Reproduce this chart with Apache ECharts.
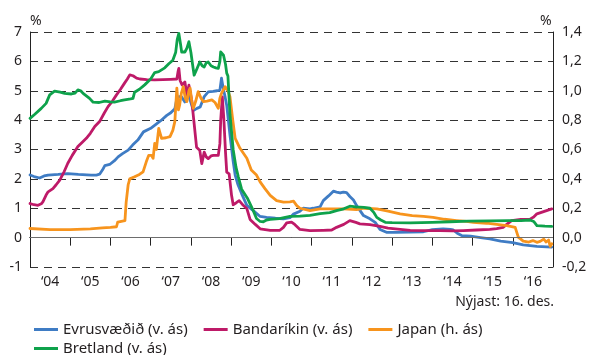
<!DOCTYPE html>
<html>
<head>
<meta charset="utf-8">
<script src="https://cdn.jsdelivr.net/npm/echarts@6/dist/echarts.min.js"></script>
<style>
  html, body { margin: 0; padding: 0; background: #fff; }
  #chart { width: 590px; height: 355px; }
</style>
</head>
<body>
<div id="chart"></div>
<script>
// year labels shown between the ticks
const yearLabels = ['\u201804', '\u201805', '\u201806', '\u201807', '\u201808', '\u201809', '\u201810',
  '\u201811', '\u201812', '\u201813', '\u201814', '\u201815', '\u201816']

// [year, %]
const evrusvaedid = [
  [2004.00, 2.13], [2004.10, 2.08], [2004.24, 2.03], [2004.35, 2.10], [2004.45, 2.13], [2004.70, 2.15],
  [2004.94, 2.18], [2005.20, 2.15], [2005.52, 2.13], [2005.65, 2.13], [2005.73, 2.16], [2005.80, 2.30],
  [2005.86, 2.45], [2005.98, 2.49], [2006.10, 2.62], [2006.19, 2.75], [2006.30, 2.86], [2006.44, 2.98],
  [2006.55, 3.15], [2006.68, 3.32], [2006.82, 3.60], [2007.00, 3.72], [2007.25, 3.98], [2007.40, 4.16],
  [2007.50, 4.25], [2007.60, 4.39], [2007.65, 4.73], [2007.71, 4.80], [2007.77, 4.79], [2007.85, 4.62],
  [2007.90, 4.75], [2007.94, 4.85], [2008.00, 4.60], [2008.06, 4.33], [2008.15, 4.40], [2008.23, 4.45],
  [2008.33, 4.80], [2008.43, 4.96], [2008.55, 4.98], [2008.65, 5.00], [2008.72, 5.02], [2008.76, 5.43],
  [2008.80, 5.10], [2008.85, 4.79], [2008.89, 4.50], [2008.97, 3.50], [2009.05, 2.60], [2009.10, 2.13],
  [2009.17, 1.80], [2009.26, 1.50], [2009.39, 1.10], [2009.55, 0.92], [2009.72, 0.72], [2009.88, 0.69],
  [2010.10, 0.66], [2010.30, 0.64], [2010.46, 0.68], [2010.55, 0.80], [2010.71, 0.90], [2010.79, 1.00],
  [2010.96, 0.98], [2011.04, 1.00], [2011.21, 1.05], [2011.29, 1.26], [2011.42, 1.42], [2011.54, 1.58],
  [2011.62, 1.55], [2011.71, 1.52], [2011.79, 1.55], [2011.87, 1.53], [2011.95, 1.40], [2012.04, 1.28],
  [2012.12, 1.09], [2012.29, 0.75], [2012.45, 0.64], [2012.58, 0.52], [2012.70, 0.28], [2012.86, 0.18],
  [2013.10, 0.18], [2013.45, 0.19], [2013.78, 0.20], [2014.00, 0.27], [2014.27, 0.30], [2014.45, 0.28],
  [2014.52, 0.26], [2014.62, 0.15], [2014.73, 0.07], [2014.95, 0.05], [2015.20, 0.00], [2015.43, -0.04],
  [2015.70, -0.12], [2016.00, -0.17], [2016.26, -0.25], [2016.60, -0.30], [2016.97, -0.32]
]

const bandarikin = [
  [2004.00, 1.16], [2004.10, 1.12], [2004.20, 1.10], [2004.28, 1.15], [2004.32, 1.22], [2004.40, 1.45],
  [2004.45, 1.56], [2004.57, 1.67], [2004.65, 1.80], [2004.74, 1.96], [2004.85, 2.25], [2004.94, 2.53],
  [2005.05, 2.80], [2005.19, 3.10], [2005.30, 3.25], [2005.40, 3.38], [2005.50, 3.55], [2005.61, 3.78],
  [2005.73, 3.95], [2005.85, 4.25], [2005.94, 4.46], [2006.05, 4.65], [2006.15, 4.86], [2006.25, 5.05],
  [2006.35, 5.26], [2006.42, 5.40], [2006.48, 5.54], [2006.56, 5.51], [2006.65, 5.43], [2006.73, 5.40],
  [2006.90, 5.38], [2007.10, 5.37], [2007.30, 5.38], [2007.50, 5.39], [2007.65, 5.40], [2007.68, 5.65],
  [2007.70, 5.76], [2007.73, 5.35], [2007.78, 5.20], [2007.85, 5.30], [2007.90, 4.85], [2007.95, 5.19],
  [2008.02, 4.68], [2008.08, 3.88], [2008.14, 3.08], [2008.22, 2.97], [2008.27, 2.52], [2008.33, 2.91],
  [2008.38, 2.75], [2008.43, 2.69], [2008.50, 2.78], [2008.56, 2.80], [2008.68, 2.80], [2008.72, 3.20],
  [2008.74, 3.99], [2008.78, 4.79], [2008.82, 3.99], [2008.86, 2.90], [2008.89, 2.23], [2008.95, 2.17],
  [2009.01, 1.44], [2009.05, 1.12], [2009.12, 1.18], [2009.20, 1.26], [2009.30, 1.10], [2009.39, 0.99],
  [2009.47, 0.62], [2009.60, 0.45], [2009.72, 0.30], [2009.97, 0.25], [2010.21, 0.25], [2010.30, 0.35],
  [2010.38, 0.50], [2010.50, 0.53], [2010.58, 0.45], [2010.71, 0.28], [2010.96, 0.24], [2011.29, 0.25],
  [2011.50, 0.26], [2011.62, 0.35], [2011.80, 0.45], [2011.95, 0.58], [2012.10, 0.52], [2012.20, 0.47],
  [2012.45, 0.44], [2012.70, 0.38], [2012.90, 0.32], [2013.20, 0.28], [2013.45, 0.25], [2013.80, 0.24],
  [2014.19, 0.24], [2014.50, 0.23], [2014.77, 0.24], [2015.10, 0.26], [2015.43, 0.28], [2015.60, 0.31],
  [2015.76, 0.35], [2015.85, 0.45], [2015.97, 0.58], [2016.20, 0.62], [2016.43, 0.63], [2016.52, 0.70],
  [2016.60, 0.81], [2016.84, 0.92], [2016.97, 0.98]
]

// right axis
const japan = [
  [2004.00, 0.062], [2004.50, 0.055], [2005.00, 0.054], [2005.50, 0.060], [2005.80, 0.066], [2006.00, 0.070],
  [2006.15, 0.074], [2006.18, 0.105], [2006.30, 0.112], [2006.36, 0.115], [2006.39, 0.240], [2006.44, 0.360],
  [2006.48, 0.400], [2006.60, 0.414], [2006.72, 0.430], [2006.81, 0.448], [2006.89, 0.516], [2006.95, 0.560],
  [2007.02, 0.560], [2007.06, 0.540], [2007.10, 0.642], [2007.14, 0.600], [2007.20, 0.744], [2007.27, 0.676],
  [2007.38, 0.680], [2007.48, 0.688], [2007.55, 0.730], [2007.60, 0.790], [2007.65, 1.018], [2007.69, 0.870],
  [2007.72, 0.904], [2007.76, 0.980], [2007.81, 1.028], [2007.86, 0.950], [2007.90, 0.926], [2007.95, 1.000],
  [2007.98, 1.018], [2008.02, 0.930], [2008.06, 0.880], [2008.12, 0.930], [2008.18, 0.994], [2008.25, 0.950],
  [2008.31, 0.926], [2008.40, 0.930], [2008.52, 0.938], [2008.60, 0.920], [2008.68, 0.880], [2008.72, 0.950],
  [2008.76, 0.982], [2008.85, 1.028], [2008.92, 1.000], [2008.97, 0.960], [2009.04, 0.800], [2009.10, 0.676],
  [2009.22, 0.608], [2009.39, 0.540], [2009.50, 0.460], [2009.63, 0.426], [2009.72, 0.380], [2009.84, 0.334],
  [2009.97, 0.288], [2010.13, 0.252], [2010.30, 0.242], [2010.46, 0.244], [2010.55, 0.248], [2010.63, 0.218],
  [2010.71, 0.200], [2010.96, 0.184], [2011.21, 0.196], [2011.50, 0.196], [2011.79, 0.196], [2012.12, 0.190],
  [2012.30, 0.200], [2012.62, 0.196], [2012.90, 0.180], [2013.20, 0.162], [2013.50, 0.150], [2013.78, 0.144],
  [2014.02, 0.138], [2014.30, 0.125], [2014.60, 0.116], [2014.85, 0.110], [2015.02, 0.104], [2015.35, 0.098],
  [2015.60, 0.090], [2015.85, 0.082], [2016.06, 0.070], [2016.10, 0.060], [2016.14, 0.002], [2016.20, -0.010],
  [2016.26, -0.024], [2016.40, -0.030], [2016.50, -0.020], [2016.60, -0.032], [2016.68, -0.026], [2016.77, -0.010],
  [2016.83, -0.030], [2016.89, -0.016], [2016.93, -0.060], [2016.97, -0.042]
]

const bretland = [
  [2004.00, 4.06], [2004.12, 4.20], [2004.28, 4.40], [2004.40, 4.57], [2004.49, 4.86], [2004.61, 4.99],
  [2004.75, 4.95], [2004.86, 4.91], [2005.03, 4.89], [2005.12, 4.92], [2005.19, 5.03], [2005.26, 5.00],
  [2005.32, 4.91], [2005.48, 4.74], [2005.57, 4.61], [2005.72, 4.60], [2005.86, 4.65], [2006.00, 4.62],
  [2006.10, 4.61], [2006.25, 4.66], [2006.35, 4.69], [2006.50, 4.72], [2006.56, 4.74], [2006.60, 4.95],
  [2006.72, 5.05], [2006.85, 5.20], [2007.00, 5.40], [2007.10, 5.62], [2007.20, 5.65], [2007.35, 5.78],
  [2007.45, 5.92], [2007.55, 6.04], [2007.62, 6.30], [2007.66, 6.75], [2007.70, 6.95], [2007.74, 6.60],
  [2007.77, 6.32], [2007.85, 6.32], [2007.90, 6.45], [2007.95, 6.67], [2008.00, 6.30], [2008.04, 5.90],
  [2008.08, 5.53], [2008.15, 5.75], [2008.22, 5.98], [2008.28, 5.85], [2008.33, 5.81], [2008.38, 5.95],
  [2008.43, 5.98], [2008.50, 5.85], [2008.56, 5.81], [2008.62, 5.78], [2008.68, 5.76], [2008.72, 6.00],
  [2008.74, 6.32], [2008.78, 6.30], [2008.81, 6.21], [2008.86, 5.90], [2008.89, 5.60], [2008.92, 5.50],
  [2008.97, 4.20], [2009.05, 3.00], [2009.12, 2.40], [2009.18, 2.06], [2009.26, 1.65], [2009.40, 1.35],
  [2009.55, 0.92], [2009.63, 0.65], [2009.72, 0.55], [2009.80, 0.54], [2009.88, 0.60], [2009.97, 0.62],
  [2010.20, 0.65], [2010.46, 0.72], [2010.71, 0.73], [2010.96, 0.76], [2011.21, 0.82], [2011.45, 0.85],
  [2011.62, 0.92], [2011.80, 0.98], [2011.95, 1.07], [2012.10, 1.05], [2012.30, 1.03], [2012.45, 1.00],
  [2012.55, 0.85], [2012.62, 0.69], [2012.72, 0.60], [2012.83, 0.52], [2013.00, 0.51], [2013.45, 0.50],
  [2014.00, 0.52], [2014.44, 0.54], [2014.90, 0.56], [2015.43, 0.57], [2015.90, 0.58], [2016.20, 0.58],
  [2016.43, 0.60], [2016.52, 0.55], [2016.60, 0.41], [2016.80, 0.39], [2016.97, 0.38]
]

const FONT = '"Noto Sans", sans-serif'
const TEXT = '#231f20'

const chart = echarts.init(document.getElementById('chart'), null, { renderer: 'canvas' })

function lineSeries(name, data, color, yAxisIndex) {
  return {
    name,
    type: 'line',
    xAxisIndex: 0,
    yAxisIndex,
    data,
    showSymbol: false,
    symbol: 'none',
    lineStyle: { color, width: 2.8, cap: 'round', join: 'round' },
    itemStyle: { color }
  }
}

const series = [
  lineSeries('Evrusvæðið (v. ás)', evrusvaedid, '#3f7cc4', 0),
  lineSeries('Bandaríkin (v. ás)', bandarikin, '#be1a68', 0),
  lineSeries('Japan (h. ás)', japan, '#f7941d', 1),
  lineSeries('Bretland (v. ás)', bretland, '#0ea24b', 0)
]
// zero line
series[0].markLine = {
  silent: true,
  symbol: 'none',
  label: { show: false },
  lineStyle: { color: '#6d6d6d', type: 'solid', width: 1 },
  data: [{ yAxis: 0 }]
}

const legendBase = {
  left: 29,
  icon: 'rect',
  itemWidth: 24,
  itemHeight: 3,
  itemGap: 16,
  textStyle: { fontFamily: FONT, fontSize: 15, color: TEXT }
}

chart.setOption({
  animation: false,
  grid: { left: 30, right: 37, top: 32, bottom: 88, containLabel: false, outerBoundsMode: 'none' },
  xAxis: [
    {
      type: 'value', min: 2004, max: 2017, position: 'top',
      axisLine: { show: true, lineStyle: { color: '#222', width: 1 } },
      axisTick: { show: false }, axisLabel: { show: false }, splitLine: { show: false }
    },
    {
      type: 'category', data: yearLabels, boundaryGap: true, position: 'bottom',
      axisLine: { show: true, lineStyle: { color: '#222', width: 1 } },
      axisTick: { show: true, interval: 0, length: 8, lineStyle: { color: '#222' } },
      axisLabel: { interval: 0, margin: 8, fontFamily: FONT, fontSize: 14, color: TEXT },
      splitLine: { show: false }
    }
  ],
  yAxis: [
    {
      type: 'value', min: -1, max: 7, interval: 1, position: 'left',
      axisLine: { show: true, lineStyle: { color: '#222', width: 1 } },
      axisTick: { show: false },
      axisLabel: { margin: 8, fontFamily: FONT, fontSize: 14, color: TEXT },
      splitLine: { show: true, lineStyle: { color: '#333', type: [8, 6], width: 1 } }
    },
    {
      type: 'value', min: -0.2, max: 1.4, interval: 0.2, position: 'right',
      axisLine: { show: true, lineStyle: { color: '#222', width: 1 } },
      axisTick: { show: false },
      axisLabel: {
        margin: 9, fontFamily: FONT, fontSize: 14, color: TEXT,
        formatter: v => v.toFixed(1).replace('.', ',')
      },
      splitLine: { show: false }
    }
  ],
  legend: [
    Object.assign({}, legendBase, { top: 317, data: ['Evrusvæðið (v. ás)', 'Bandaríkin (v. ás)', 'Japan (h. ás)'] }),
    Object.assign({}, legendBase, { top: 336, data: ['Bretland (v. ás)'] })
  ],
  graphic: [
    { type: 'text', left: 30, top: 14, style: { text: '%', font: '14px ' + FONT, fill: TEXT } },
    { type: 'text', left: 540, top: 14, style: { text: '%', font: '14px ' + FONT, fill: TEXT } },
    { type: 'text', right: 36, top: 295, style: { text: 'Nýjast: 16. des.', font: '14px ' + FONT, fill: TEXT } }
  ],
  series
})

window.addEventListener('resize', () => chart.resize())
</script>
</body>
</html>
